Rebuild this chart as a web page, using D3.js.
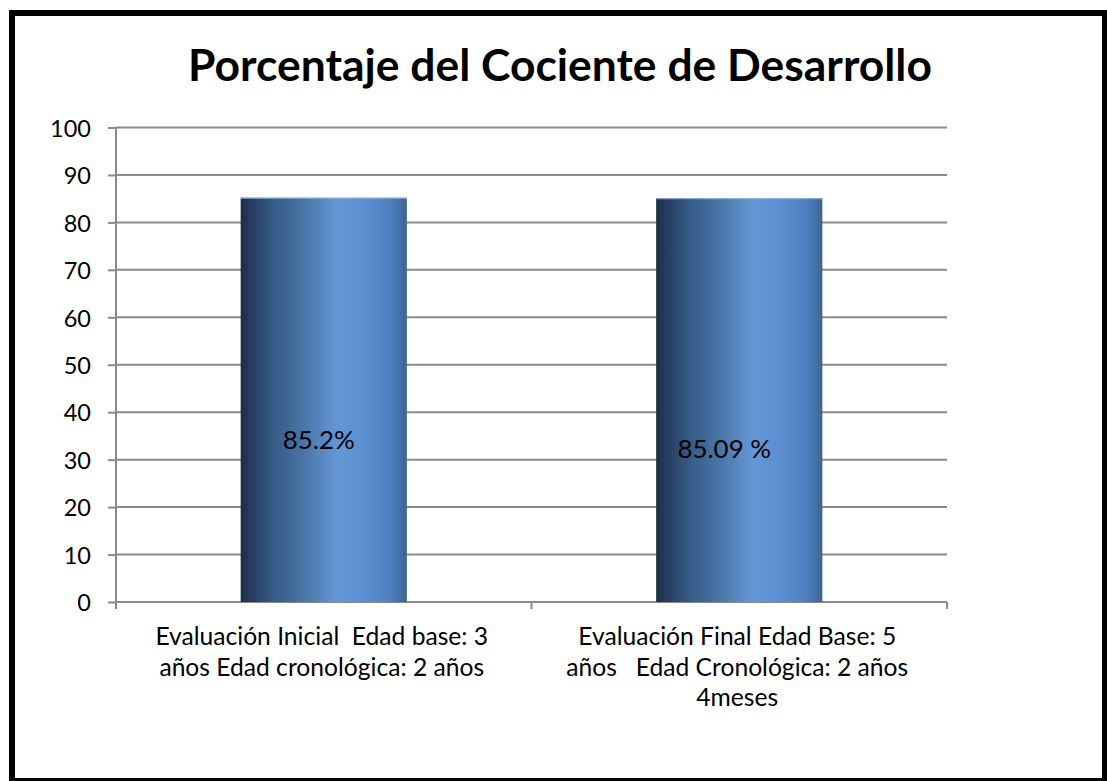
<!DOCTYPE html>
<html><head><meta charset="utf-8">
<script src="https://cdn.jsdelivr.net/npm/d3@7"></script>
<style>
html,body{margin:0;padding:0;background:#fff;}
svg{display:block;}
text{font-family:Lato, "Open Sans", sans-serif;}
</style></head>
<body>
<svg id="c" width="1107" height="781"></svg>
<script>
const title = "Porcentaje del Cociente de Desarrollo";
const categories = [
  ["Evaluación Inicial  Edad base: 3", "años Edad cronológica: 2 años"],
  ["Evaluación Final Edad Base: 5", "años   Edad Cronológica: 2 años", "4meses"]
];
const values = [85.2, 85.09];
const valueLabels = ["85.2%", "85.09 %"];
const yTicks = [0,10,20,30,40,50,60,70,80,90,100];

const svg = d3.select("#c");
const W = 1107, H = 781;
const m = {left:116, right:160, top:127.5, bottom:179};

// fit a font size so a text spans a target width
function fit(sel, target){
  const base = +sel.attr("font-size");
  const w = sel.node().getComputedTextLength();
  return base*target/w;
}

// frame
svg.append("rect").attr("x",12).attr("y",13).attr("width",1093).attr("height",768)
  .attr("fill","#fff").attr("stroke","#000").attr("stroke-width",6);

const x = d3.scaleBand().domain(d3.range(categories.length))
  .range([m.left, W - m.right]).paddingInner(0.6).paddingOuter(0.3);
const y = d3.scaleLinear().domain([0,100]).range([H - m.bottom, m.top]);

// gradient
const defs = svg.append("defs");
const g = defs.append("linearGradient").attr("id","barGrad").attr("x1","0").attr("x2","1").attr("y1","0").attr("y2","0");
[[0,"#1d2f47"],[0.05,"#25395a"],[0.2,"#365b86"],[0.4,"#4b79ab"],[0.58,"#6597d6"],[0.75,"#5b8ed0"],[0.9,"#4f80c1"],[1,"#3d6495"]]
  .forEach(([o,c])=>g.append("stop").attr("offset",o).attr("stop-color",c));

const gridColor = "#8a8a8a";
svg.append("g").selectAll("line").data(yTicks).join("line")
  .attr("x1", m.left).attr("x2", W - m.right)
  .attr("y1", d=>y(d)).attr("y2", d=>y(d))
  .attr("stroke", gridColor).attr("stroke-width", 2);

// y axis
const yAxis = svg.append("g").attr("transform",`translate(${m.left},0)`)
  .call(d3.axisLeft(y).tickValues(yTicks).tickSize(8).tickPadding(17).tickFormat(d3.format("d")));
yAxis.select(".domain").attr("stroke",gridColor).attr("stroke-width",2)
  .attr("d", `M0,${y(100)}V${y(0)+7}`);
yAxis.selectAll(".tick line").attr("stroke",gridColor).attr("stroke-width",2);
yAxis.selectAll(".tick text").attr("font-size",23.5).attr("fill","#000").attr("font-family","Lato").attr("dy","0.37em");

// x axis
const xb = [m.left, m.left + x.step(), W - m.right];
const xAxis = svg.append("g");
xAxis.append("line").attr("x1",m.left).attr("x2",W-m.right).attr("y1",y(0)).attr("y2",y(0))
  .attr("stroke",gridColor).attr("stroke-width",2);
xAxis.selectAll("line.t").data(xb).join("line").attr("class","t")
  .attr("x1",d=>d).attr("x2",d=>d).attr("y1",y(0)).attr("y2",y(0)+7)
  .attr("stroke",gridColor).attr("stroke-width",2);

// bars
svg.append("g").selectAll("rect").data(values).join("rect")
  .attr("x",(d,i)=>x(i)).attr("width",x.bandwidth())
  .attr("y",d=>y(d)).attr("height",d=>y(0)-y(d))
  .attr("fill","url(#barGrad)");
svg.append("g").selectAll("line").data(values).join("line")
  .attr("x1",(d,i)=>x(i)).attr("x2",(d,i)=>x(i)+x.bandwidth())
  .attr("y1",d=>y(d)+0.5).attr("y2",d=>y(d)+0.5)
  .attr("stroke","#8fb0d8").attr("stroke-width",1);

// data labels (manually placed offsets as in source)
const labelOffset = [[-5, 251], [-15, 260]];
const dl = svg.append("g").selectAll("text").data(values).join("text")
  .attr("x",(d,i)=>x(i)+x.bandwidth()/2+labelOffset[i][0])
  .attr("y",(d,i)=>y(d)+labelOffset[i][1])
  .attr("text-anchor","middle").attr("font-size",23).attr("fill","#000")
  .text((d,i)=>valueLabels[i]);
dl.attr("font-size", fit(d3.select(dl.nodes()[0]), 72));

// category labels
const catG = svg.append("g");
const catTexts = [];
categories.forEach((lines,i)=>{
  const cx = x(i)+x.bandwidth()/2 - 2;
  const t = catG.append("text").attr("text-anchor","middle")
    .attr("x", cx).attr("y", y(0)+43)
    .attr("font-size",20).attr("fill","#000").style("white-space","pre");
  lines.forEach((l,j)=>t.append("tspan").attr("x", cx).attr("dy", j? 30.5:0).text(l));
  catTexts.push(t);
});
// fit size on first line of first label
const probe = svg.append("text").attr("font-size",20).style("white-space","pre").text(categories[0][0]);
const cs = fit(probe, 333); probe.remove();
catTexts.forEach(t=>t.attr("font-size", cs));

// title
const tt = svg.append("text").attr("x",560).attr("y",81).attr("text-anchor","middle")
  .attr("font-weight","bold").attr("font-size",44).attr("fill","#000").text(title);
tt.attr("font-size", fit(tt, 744));
</script>
</body></html>
